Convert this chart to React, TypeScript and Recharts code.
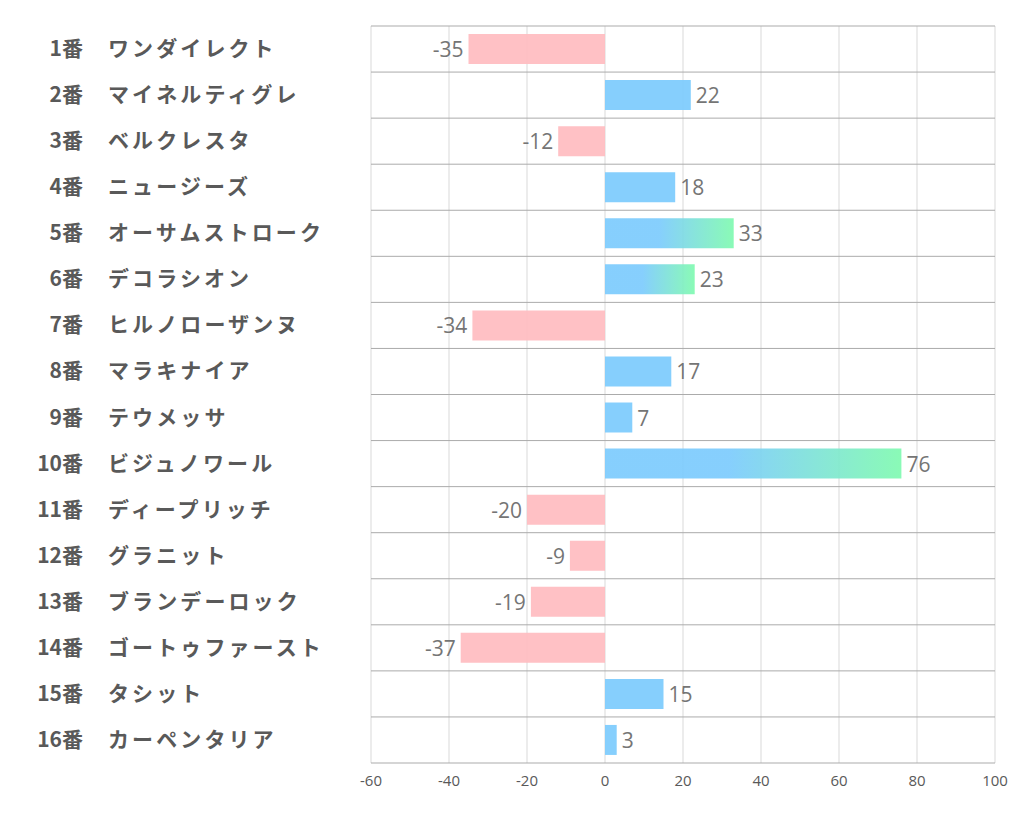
import type { ReactElement } from "react";
import {
  BarChart,
  Bar,
  XAxis,
  YAxis,
  CartesianGrid,
  Cell,
  LabelList,
} from "recharts";

const horseNumbers = [1, 2, 3, 4, 5, 6, 7, 8, 9, 10, 11, 12, 13, 14, 15, 16];
const horseNames = [
  "ワンダイレクト",
  "マイネルティグレ",
  "ベルクレスタ",
  "ニュージーズ",
  "オーサムストローク",
  "デコラシオン",
  "ヒルノローザンヌ",
  "マラキナイア",
  "テウメッサ",
  "ビジュノワール",
  "ディープリッチ",
  "グラニット",
  "ブランデーロック",
  "ゴートゥファースト",
  "タシット",
  "カーペンタリア",
];
const scores = [-35, 22, -12, 18, 33, 23, -34, 17, 7, 76, -20, -9, -19, -37, 15, 3];
// horses drawn with the blue→green gradient
const topPicks = [5, 6, 10];
const xTicks = [-60, -40, -20, 0, 20, 40, 60, 80, 100];

const rows = horseNumbers.map((num, i) => ({
  label: `${num}番`,
  name: horseNames[i],
  key: `${num}`,
  value: scores[i],
  top: topPicks.includes(num),
}));

const BLUE = "#7ccbfd";
const GREEN = "#80fab0";
const PINK = "#ffbcc0";
const TEXT = "#595959";

function HorseTick(props: any): ReactElement {
  const { y, payload } = props;
  const row = rows.find((r) => r.key === payload.value);
  return (
    <g>
      <text
        x={83}
        y={y}
        dy={7}
        textAnchor="end"
        fill={TEXT}
        fontSize={21}
        fontWeight="bold"
        fontFamily="'Noto Sans CJK JP', sans-serif"
      >
        {row?.label}
      </text>
      <text
        x={108}
        y={y}
        dy={7}
        textAnchor="start"
        fill={TEXT}
        fontSize={21}
        fontWeight="bold"
        letterSpacing={3.1}
        fontFamily="'Noto Sans CJK JP', sans-serif"
      >
        {row?.name}
      </text>
    </g>
  );
}

function ValueLabel(props: any): ReactElement {
  const { x, y, width, height, value } = props;
  const left = Math.min(x, x + width);
  const right = Math.max(x, x + width);
  const neg = value < 0;
  return (
    <text
      x={neg ? left - 5 : right + 5}
      y={y + height / 2}
      dy={8}
      textAnchor={neg ? "end" : "start"}
      fill="#757575"
      fontSize={21}
      fontFamily="'Open Sans', sans-serif"
    >
      {value}
    </text>
  );
}

export default function App(): ReactElement {
  return (
    <div style={{ position: "absolute", left: 0, top: 0, background: "#fff" }}>
      <BarChart
        width={1022}
        height={834}
        data={rows}
        layout="vertical"
        margin={{ top: 26, right: 27, bottom: 41, left: 0 }}
        barSize={30}
      >
        <defs>
          <linearGradient id="topGrad" x1="0" y1="0" x2="1" y2="0">
            <stop offset="0" stopColor={BLUE} />
            <stop offset="0.42" stopColor={BLUE} />
            <stop offset="1" stopColor={GREEN} />
          </linearGradient>
        </defs>
        <CartesianGrid horizontal={false} stroke="#d9d9d9" />
        <CartesianGrid
          vertical={false}
          stroke="#ababab"
          horizontalCoordinatesGenerator={({ offset }: any) =>
            rows
              .map((_, i) => offset.top + (i * offset.height) / rows.length)
              .concat(offset.top + offset.height)
          }
        />
        <XAxis
          type="number"
          domain={[-60, 100]}
          ticks={xTicks}
          axisLine={false}
          tickLine={false}
          height={30}
          tick={{ fill: TEXT, fontSize: 15, fontFamily: "'Open Sans', sans-serif" }}
          tickMargin={6}
        />
        <YAxis
          type="category"
          dataKey="key"
          width={371}
          axisLine={false}
          tickLine={false}
          tick={<HorseTick />}
        />
        <Bar dataKey="value" isAnimationActive={false} fillOpacity={0.92}>
          {rows.map((r) => (
            <Cell
              key={r.key}
              fill={r.value < 0 ? PINK : r.top ? "url(#topGrad)" : BLUE}
            />
          ))}
          <LabelList dataKey="value" content={<ValueLabel />} />
        </Bar>
      </BarChart>
    </div>
  );
}
